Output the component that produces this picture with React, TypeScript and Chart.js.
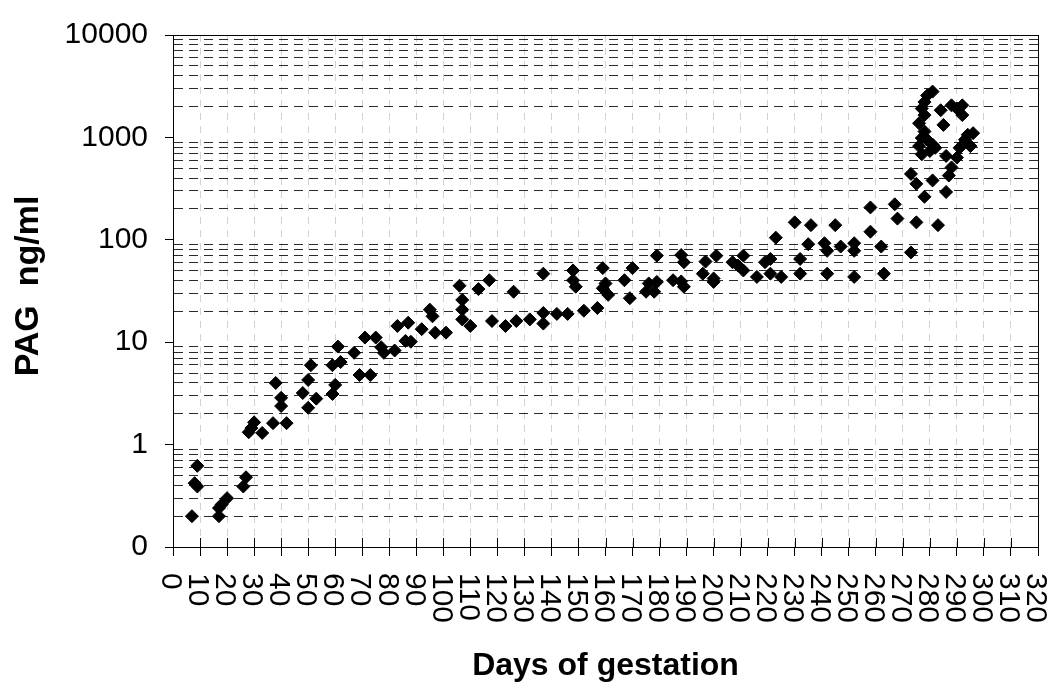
import React, { useEffect, useRef } from 'react';
import { Chart, registerables } from 'chart.js';

Chart.register(...registerables);

// ---- data ----
const days = [
  7, 8, 9, 9, 17, 17, 18, 20, 26, 27, 28, 29, 30, 33, 37, 38, 40, 40, 42, 48,
  50, 50, 51, 53, 59, 60, 59, 62, 61, 67, 69, 73, 71, 75, 77, 78, 82, 83, 87, 86,
  88, 92, 95, 96, 97, 101, 106, 107, 107, 107, 110, 113, 117, 118, 123, 127, 126, 132, 137, 137,
  137, 142, 146, 148, 148, 149, 152, 157, 159, 160, 159, 161, 167, 170, 169, 175, 176, 178, 179, 179,
  185, 188, 189, 188, 189, 197, 196, 200, 200, 201, 207, 209, 211, 211, 216, 219, 221, 221, 223, 225,
  230, 232, 232, 235, 236, 241, 242, 242, 245, 247, 252, 252, 252, 258, 258, 262, 263, 267, 268, 275,
  283, 273,
  281, 279, 278, 277, 278, 276, 278, 277, 276, 279, 281, 282, 286, 280, 277, 284, 288, 292, 292, 285,
  293, 291, 290, 288, 287, 286, 273, 275, 278, 281, 294, 296, 295, 290,
];
const pag = [
  0.2, 0.42, 0.39, 0.62, 0.2, 0.24, 0.26, 0.3, 0.39, 0.48, 1.32, 1.45, 1.65, 1.3, 1.62, 4.0, 2.86, 2.38, 1.62, 3.19,
  2.29, 4.28, 5.96, 2.81, 3.12, 3.83, 5.96, 6.4, 9.06, 7.88, 4.78, 4.78, 11.1, 11.1, 8.94, 7.88, 8.3, 14.4, 15.5, 10.3,
  10.1, 13.4, 20.8, 17.9, 12.4, 12.4, 35.6, 25.9, 20.8, 16.7, 14.4, 33, 40.3, 16.1, 14.4, 16.1, 31.1, 16.7, 19.3, 15.2,
  46.7, 18.9, 18.9, 50.2, 40.3, 34.8, 20.3, 21.6, 52.9, 37.5, 33.6, 29, 40.3, 52.9, 26.9, 31.1, 37.5, 31.1, 38.8, 70,
  40.3, 39.2, 34.8, 71, 60.4, 61.3, 46.7, 41.9, 38.8, 70, 60.4, 56.1, 70, 50.2, 43.4, 60.4, 65, 46.7, 105, 43.4,
  148, 65, 46.7, 90.6, 139, 92.6, 78.1, 46.7, 139, 85.9, 92.6, 78.1, 43.4, 207, 120, 85.9, 46.7, 222, 161, 148,
  139, 75.3,
  2800, 2565, 2218, 1914, 1651, 1374, 1143, 986, 822, 951, 851, 791, 659, 736, 683, 1841, 2056, 2056, 1651, 1324,
  951, 791, 635, 509, 424, 293, 440, 352, 263, 380, 1062, 1100, 822, 1914,
];

const xTickValues = [0, 10, 20, 30, 40, 50, 60, 70, 80, 90, 100, 110, 120, 130, 140, 150, 160, 170, 180, 190, 200, 210, 220, 230, 240, 250, 260, 270, 280, 290, 300, 310, 320];
const xTickLabels = ['0', '10', '20', '30', '40', '50', '60', '70', '80', '90', '100', '110', '120', '130', '140', '150', '160', '170', '180', '190', '200', '210', '220', '230', '240', '250', '260', '270', '280', '290', '300', '310', '320'];
const yDecades = [0.1, 1, 10, 100, 1000, 10000];
const yDecadeLabels = ['0', '1', '10', '100', '1000', '10000'];
const yMinorMultipliers = [2, 3, 4, 5, 6, 7, 8, 9];
const xTitle = 'Days of gestation';
const yTitle = 'PAG  ng/ml';

const FONT = "'Liberation Sans', Arial, Helvetica, sans-serif";

const yTickValues: number[] = [];
yDecades.forEach((d, i) => {
  yTickValues.push(d);
  if (i < yDecades.length - 1) yMinorMultipliers.forEach((m) => yTickValues.push(+(d * m).toPrecision(6)));
});

const isDecade = (v: number) => yDecades.some((d) => Math.abs(d - v) / d < 1e-6);

const decorPlugin = {
  id: 'decor',
  afterDraw(chart: any) {
    const { ctx, chartArea } = chart;
    const xs = chart.scales.x;
    ctx.save();
    // box around plot area
    ctx.strokeStyle = '#000';
    ctx.lineWidth = 1;
    ctx.setLineDash([]);
    ctx.strokeRect(Math.round(chartArea.left) + 0.5, Math.round(chartArea.top) + 0.5,
      Math.round(chartArea.right - chartArea.left), Math.round(chartArea.bottom - chartArea.top));
    // inner half of the crossing x ticks
    ctx.beginPath();
    xTickValues.forEach((v) => {
      const x = Math.round(xs.getPixelForValue(v)) + 0.5;
      ctx.moveTo(x, chartArea.bottom - 9);
      ctx.lineTo(x, chartArea.bottom);
    });
    ctx.stroke();
    // x tick labels rotated clockwise
    const fs = 30;
    ctx.fillStyle = '#000';
    ctx.font = `${fs}px ${FONT}`;
    ctx.textAlign = 'left';
    ctx.textBaseline = 'alphabetic';
    xTickValues.forEach((v, i) => {
      const x = xs.getPixelForValue(v);
      ctx.save();
      ctx.translate(x, chartArea.bottom + 26);
      ctx.rotate(Math.PI / 2);
      ctx.fillText(xTickLabels[i], 0, 0.358 * fs);
      ctx.restore();
    });
    // x title
    ctx.font = `bold 32px ${FONT}`;
    ctx.textAlign = 'center';
    ctx.fillText(xTitle, (chartArea.left + chartArea.right) / 2, 675);
    // y title
    ctx.save();
    ctx.font = `bold 34px ${FONT}`;
    ctx.translate(38, 286);
    ctx.rotate(-Math.PI / 2);
    ctx.textAlign = 'center';
    ctx.fillText(yTitle, 0, 0);
    ctx.restore();
    ctx.restore();
  },
};

export default function App() {
  const ref = useRef<HTMLCanvasElement>(null);
  useEffect(() => {
    if (!ref.current) return;
    const chart = new Chart(ref.current, {
      type: 'scatter',
      data: {
        datasets: [
          {
            data: days.map((d, i) => ({ x: d, y: pag[i] })),
            pointStyle: 'rectRot',
            pointRadius: 6.5,
            pointHoverRadius: 6.5,
            backgroundColor: '#000',
            borderColor: '#000',
            borderWidth: 1,
          },
        ],
      },
      options: {
        animation: false,
        responsive: false,
        maintainAspectRatio: false,
        layout: { padding: { top: 25, right: 16, bottom: 0, left: 0 } },
        plugins: { legend: { display: false }, tooltip: { enabled: false } },
        scales: {
          x: {
            type: 'linear',
            min: 0,
            max: 320,
            afterBuildTicks: (s: any) => {
              s.ticks = xTickValues.map((v) => ({ value: v }));
            },
            afterFit: (s: any) => {
              s.height = 139;
            },
            ticks: { display: false },
            grid: { color: '#d2d2d2', lineWidth: 1, tickColor: '#000', tickLength: 9, drawTicks: true },
            border: { display: true, color: '#000', width: 1, dash: [7, 6] },
          },
          y: {
            type: 'logarithmic',
            min: 0.1,
            max: 10000,
            afterBuildTicks: (s: any) => {
              s.ticks = yTickValues.map((v) => ({ value: v }));
            },
            afterFit: (s: any) => {
              s.width = 173;
            },
            ticks: {
              autoSkip: false,
              color: '#000',
              padding: 17,
              font: { family: FONT, size: 30 },
              callback: (v: any) => {
                const idx = yDecades.findIndex((d) => Math.abs(d - Number(v)) / d < 1e-6);
                return idx >= 0 ? yDecadeLabels[idx] : '';
              },
            },
            grid: {
              color: (c: any) => (c.tick && isDecade(c.tick.value) ? 'rgba(0,0,0,0)' : '#2a2a2a'),
              tickColor: (c: any) => (c.tick && isDecade(c.tick.value) ? '#000' : 'rgba(0,0,0,0)'),
              tickLength: 8,
              lineWidth: 1,
            },
            border: { display: true, color: '#000', width: 1, dash: [9, 6] },
          },
        },
      },
      plugins: [decorPlugin],
    });
    return () => chart.destroy();
  }, []);
  return (
    <div style={{ position: 'fixed', left: 0, top: 0, width: 1054, height: 686, background: '#fff' }}>
      <canvas ref={ref} width={1054} height={686} style={{ display: 'block', width: 1054, height: 686 }} />
    </div>
  );
}
